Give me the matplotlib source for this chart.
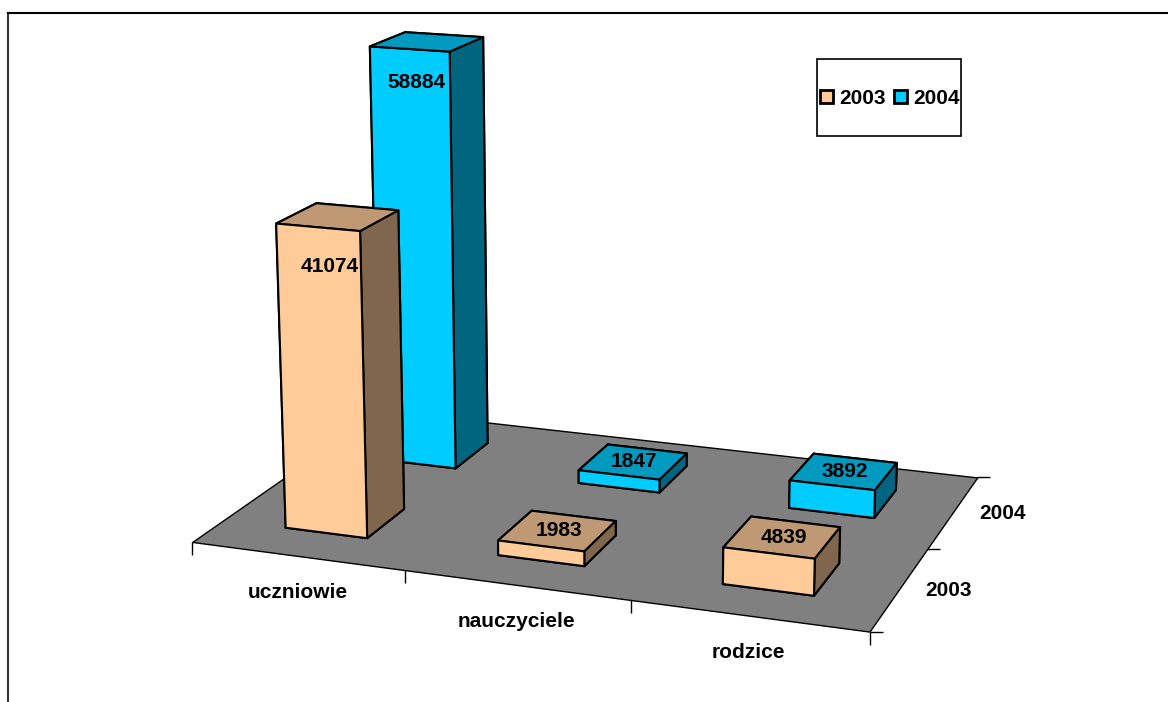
import matplotlib
matplotlib.use("Agg")
import matplotlib.pyplot as plt
from matplotlib.patches import Patch, Rectangle
from matplotlib.lines import Line2D
from mpl_toolkits.mplot3d.art3d import Poly3DCollection
from mpl_toolkits.mplot3d import proj3d

plt.rcParams['font.family'] = ['Liberation Sans', 'DejaVu Sans']
plt.rcParams['font.weight'] = 'bold'

categories = ["uczniowie", "nauczyciele", "rodzice"]
years = ["2003", "2004"]
values_2003 = [41074, 1983, 4839]
values_2004 = [58884, 1847, 3892]
zmax = 60000

# front, top, side shades for each year
faces_2003 = ["#FFCC99", "#BF9973", "#7F664C"]
faces_2004 = ["#00CCFF", "#0099BF", "#006680"]

W, H = 1168, 702
fig = plt.figure(figsize=(W / 100, H / 100), dpi=100)

# outer chart border
fig.add_artist(Line2D([8 / W, 8 / W], [0, 1 - 13 / H], color="#333333", lw=1.5))
fig.add_artist(Line2D([8 / W, 1], [1 - 13 / H, 1 - 13 / H], color="black", lw=1.5))

ax = fig.add_axes([-2 / W, -190 / H, 1, W / H], projection="3d")
ax.set_proj_type("persp", focal_length=0.44)
ax.view_init(elev=15.2, azim=-70.2)
ax.set_box_aspect((1.088, 0.72, 0.725), zoom=0.784)
ax.set_xlim(0, 3)
ax.set_ylim(0, 2)
ax.set_zlim(0, zmax)
ax.set_axis_off()
ax.patch.set_alpha(0)
ax.computed_zorder = False

floor = Poly3DCollection([[(0, 0, 0), (3, 0, 0), (3, 2, 0), (0, 2, 0)]],
                         facecolor="#808080", edgecolor="black", linewidth=1, zorder=1)
ax.add_collection3d(floor)

# ticks
for i in range(4):
    ax.plot([i], [0], [0], marker=3, ms=9, mew=1, color="black", zorder=1)
for j in range(3):
    ax.plot([3], [j], [0], marker=1, ms=9, mew=1, color="black", zorder=1)


def bar(i, j, val, shades, z):
    cols = [shades[1], shades[1], shades[0], shades[0], shades[2], shades[2]]
    ax.bar3d(i + 0.30, j + 0.3, 0, 0.39, 0.4, val, color=cols, shade=False,
             edgecolor="black", linewidth=1.5, zorder=z)


def label(x, y, z, s, dx=0, dy=0):
    # offsets are in pixels
    px, py, _ = proj3d.proj_transform(x, y, z, ax.get_proj())
    ax.annotate(s, (px, py), xytext=(dx * 0.72, dy * 0.72), textcoords="offset points",
                ha="center", va="center", fontsize=15, zorder=20, annotation_clip=False)


# back row first so the front row covers it
z = 2
for i, v in enumerate(values_2004):
    bar(i, 1, v, faces_2004, z)
    z += 1
for i, v in enumerate(values_2003):
    bar(i, 0, v, faces_2003, z)
    z += 1

nudge_2003 = [(-9, -50), (0, 0), (0, 0)]
nudge_2004 = [(-12, -41), (0, 0), (0, 0)]
for i, v in enumerate(values_2004):
    label(i + 0.5, 1.5, v, str(v), *nudge_2004[i])
for i, v in enumerate(values_2003):
    label(i + 0.5, 0.5, v, str(v), *nudge_2003[i])

for i, c in enumerate(categories):
    label(i + 0.5, 0, 0, c, 0, -37)
for j, y in enumerate(years):
    label(3, j + 0.5, 0, y, 49, -2)

# legend
fig.add_artist(Rectangle((817 / W, 1 - 136 / H), 144 / W, 77 / H, transform=fig.transFigure,
                         facecolor="white", edgecolor="black", lw=1.2))
handles = [Patch(facecolor=faces_2003[0], edgecolor="black", lw=2),
           Patch(facecolor=faces_2004[0], edgecolor="black", lw=2)]
fig.legend(handles, years, ncol=2, loc="center", bbox_to_anchor=(890 / W, 1 - 98 / H),
           frameon=False, fontsize=15, handlelength=0.6, handleheight=0.6,
           handletextpad=0.31, columnspacing=0.43, borderpad=0)

fig.savefig("out.png", dpi=100)
